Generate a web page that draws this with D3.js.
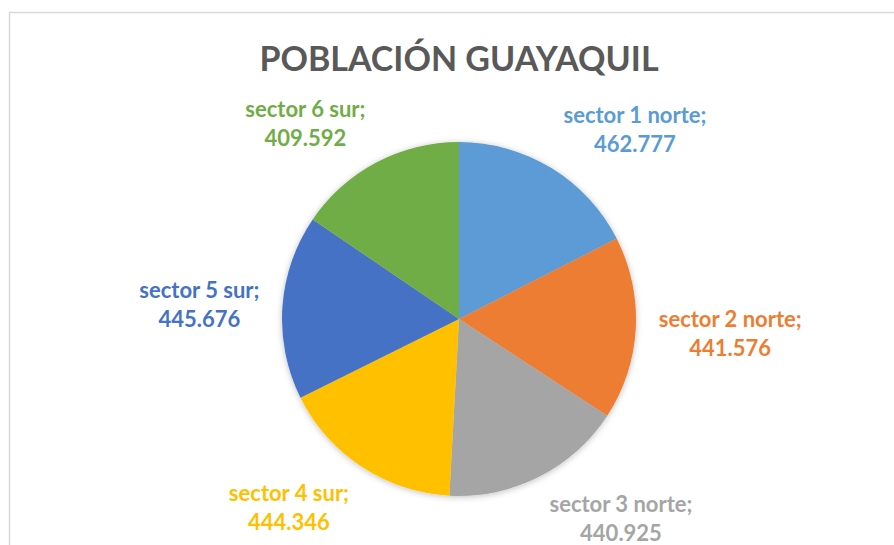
<!DOCTYPE html>
<html>
<head>
<meta charset="utf-8">
<script src="https://cdn.jsdelivr.net/npm/d3@7"></script>
<style>
  body { margin: 0; background: #fff; }
  svg { display: block; font-family: Lato, "Open Sans", sans-serif; }
</style>
</head>
<body>
<script>
// data
var sectors = ["sector 1 norte", "sector 2 norte", "sector 3 norte", "sector 4 sur", "sector 5 sur", "sector 6 sur"];
var population = [462777, 441576, 440925, 444346, 445676, 409592];
var sliceColors = ["#5B9BD5", "#ED7D31", "#A5A5A5", "#FFC000", "#4472C4", "#70AD47"];
var chartTitle = "POBLACIÓN GUAYAQUIL";

var width = 894, height = 545;
var cx = 459, cy = 319, radius = 177;
var labelRadius = 200, lineGap = 29;

var svg = d3.select("body").append("svg")
    .attr("width", width)
    .attr("height", height);

// chart frame (runs off the right and bottom of the picture)
svg.append("rect")
    .attr("x", 9.5).attr("y", 12.5)
    .attr("width", 900).attr("height", 560)
    .attr("fill", "#fff")
    .attr("stroke", "#d9d9d9")
    .attr("stroke-width", 1.5);

var defs = svg.append("defs");
var shadow = defs.append("filter").attr("id", "shadow")
    .attr("x", "-20%").attr("y", "-20%").attr("width", "140%").attr("height", "140%");
shadow.append("feDropShadow")
    .attr("dx", 0).attr("dy", 1)
    .attr("stdDeviation", 3)
    .attr("flood-color", "#000")
    .attr("flood-opacity", 0.25);

svg.append("text")
    .attr("x", cx)
    .attr("y", 71)
    .attr("text-anchor", "middle")
    .attr("font-size", 34)
    .attr("font-weight", "bold")
    .attr("fill", "#595959")
    .text(chartTitle);

var data = sectors.map(function(s, i) { return {name: s, value: population[i], color: sliceColors[i]}; });

var pie = d3.pie().sort(null).value(function(d) { return d.value; });
var arc = d3.arc().innerRadius(0).outerRadius(radius);
var arcs = pie(data);

var g = svg.append("g").attr("transform", "translate(" + cx + "," + cy + ")");

g.append("g").attr("filter", "url(#shadow)")
  .selectAll("path")
    .data(arcs)
  .enter().append("path")
    .attr("d", arc)
    .attr("fill", function(d) { return d.data.color; });

var fmt = function(v) { return d3.format(",")(v).replace(/,/g, "."); };

var labels = g.selectAll(".label")
    .data(arcs)
  .enter().append("text")
    .attr("class", "label")
    .attr("text-anchor", "middle")
    .attr("font-size", 22)
    .attr("font-weight", "bold")
    .attr("fill", function(d) { return d.data.color; });

labels.append("tspan").attr("x", 0).attr("dy", 0).text(function(d) { return d.data.name + ";"; });
labels.append("tspan").attr("x", 0).attr("dy", lineGap).text(function(d) { return fmt(d.data.value); });

// place each label box just outside the rim at its slice's mid angle
labels.each(function(d) {
    var a = (d.startAngle + d.endAngle) / 2;
    var s = Math.sin(a), c = Math.cos(a);
    var w = this.getBBox().width, h = 40;
    var kx = Math.max(-1, Math.min(1, s * 3));
    var ky = Math.max(-1, Math.min(1, c * 2));
    var mx = labelRadius * s + kx * w / 2;
    var my = -labelRadius * c - ky * h / 2;
    d3.select(this).attr("transform", "translate(" + mx + "," + (my - 5) + ")");
});
</script>
</body>
</html>
